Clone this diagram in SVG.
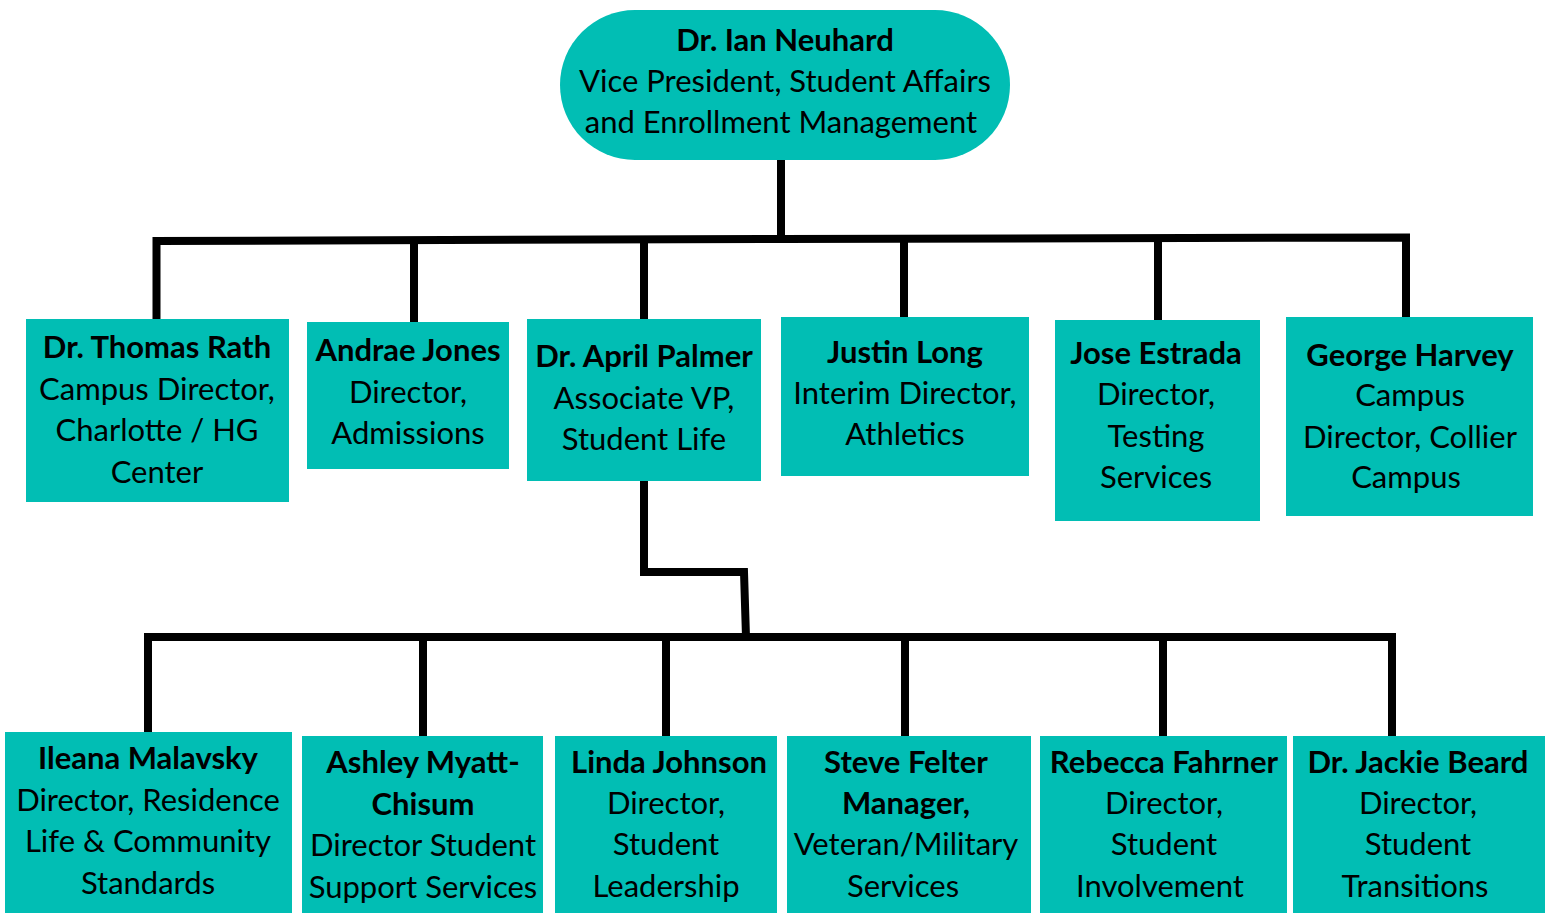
<svg xmlns="http://www.w3.org/2000/svg" width="1548" height="913" viewBox="0 0 1548 913">
  <style>
    .box { fill: #01BEB4; }
    .t { font-family: Lato, "Open Sans", "Liberation Sans", sans-serif; font-size: 31px; fill: #000; text-anchor: middle; }
    .b { font-weight: 700; }
    .wire { fill: none; stroke: #000; stroke-width: 8; stroke-linejoin: miter; stroke-linecap: butt; }
  </style>
  <rect width="1548" height="913" fill="#fff"/>

  <!-- connectors -->
  <g id="connectors" class="wire">
    <path d="M781,160 V239"/>
    <path d="M156.5,319 V241 L781,239 L1406,237.5 V317"/>
    <path d="M414,240 V322"/>
    <path d="M644,239 V319"/>
    <path d="M904,238 V317"/>
    <path d="M1158,238 V320"/>
    <path d="M644,481 V572 H744 L746,637"/>
    <path d="M148,732 V637 H1392 V736"/>
    <path d="M423,637 V736"/>
    <path d="M666,637 V736"/>
    <path d="M905,637 V736"/>
    <path d="M1163,637 V736"/>
  </g>

  <!-- top -->
  <g id="neuhard">
    <rect class="box" x="560" y="10" width="450" height="150" rx="75" ry="75"/>
    <text class="t b" x="785" y="51">Dr. Ian Neuhard</text>
    <text class="t" x="785" y="92">Vice President, Student Affairs</text>
    <text class="t" x="781" y="133">and Enrollment Management</text>
  </g>

  <!-- second level -->
  <g id="rath">
    <rect class="box" x="26" y="319" width="263" height="183"/>
    <text class="t b" x="157" y="358">Dr. Thomas Rath</text>
    <text class="t" x="157" y="400">Campus Director,</text>
    <text class="t" x="157" y="441">Charlotte / HG</text>
    <text class="t" x="157" y="483">Center</text>
  </g>
  <g id="jones">
    <rect class="box" x="307" y="322" width="202" height="147"/>
    <text class="t b" x="408" y="361">Andrae Jones</text>
    <text class="t" x="408" y="403">Director,</text>
    <text class="t" x="408" y="444">Admissions</text>
  </g>
  <g id="palmer">
    <rect class="box" x="527" y="319" width="234" height="162"/>
    <text class="t b" x="644" y="367">Dr. April Palmer</text>
    <text class="t" x="644" y="409">Associate VP,</text>
    <text class="t" x="644" y="450">Student Life</text>
  </g>
  <g id="long">
    <rect class="box" x="781" y="317" width="248" height="159"/>
    <text class="t b" x="905" y="363">Justin Long</text>
    <text class="t" x="905" y="404">Interim Director,</text>
    <text class="t" x="905" y="445">Athletics</text>
  </g>
  <g id="estrada">
    <rect class="box" x="1055" y="320" width="205" height="201"/>
    <text class="t b" x="1156" y="364">Jose Estrada</text>
    <text class="t" x="1156" y="405">Director,</text>
    <text class="t" x="1156" y="447">Testing</text>
    <text class="t" x="1156" y="488">Services</text>
  </g>
  <g id="harvey">
    <rect class="box" x="1286" y="317" width="247" height="199"/>
    <text class="t b" x="1410" y="366">George Harvey</text>
    <text class="t" x="1410" y="406">Campus</text>
    <text class="t" x="1410" y="448">Director, Collier</text>
    <text class="t" x="1406" y="488">Campus</text>
  </g>

  <!-- third level -->
  <g id="malavsky">
    <rect class="box" x="5" y="732" width="287" height="181"/>
    <text class="t b" x="148" y="769">Ileana Malavsky</text>
    <text class="t" x="148" y="811">Director, Residence</text>
    <text class="t" x="148" y="852">Life &amp; Community</text>
    <text class="t" x="148" y="894">Standards</text>
  </g>
  <g id="myatt-chisum">
    <rect class="box" x="302" y="736" width="241" height="177"/>
    <text class="t b" x="423" y="773">Ashley Myatt-</text>
    <text class="t b" x="423" y="815">Chisum</text>
    <text class="t" x="423" y="856">Director Student</text>
    <text class="t" x="423" y="898">Support Services</text>
  </g>
  <g id="johnson">
    <rect class="box" x="555" y="736" width="222" height="177"/>
    <text class="t b" x="669" y="773">Linda Johnson</text>
    <text class="t" x="666" y="814">Director,</text>
    <text class="t" x="666" y="855">Student</text>
    <text class="t" x="666" y="897">Leadership</text>
  </g>
  <g id="felter">
    <rect class="box" x="787" y="736" width="244" height="177"/>
    <text class="t b" x="906" y="773">Steve Felter</text>
    <text class="t b" x="906" y="814">Manager,</text>
    <text class="t" x="906" y="855">Veteran/Military</text>
    <text class="t" x="903" y="897">Services</text>
  </g>
  <g id="fahrner">
    <rect class="box" x="1040" y="736" width="247" height="177"/>
    <text class="t b" x="1164" y="773">Rebecca Fahrner</text>
    <text class="t" x="1164" y="814">Director,</text>
    <text class="t" x="1164" y="855">Student</text>
    <text class="t" x="1160" y="897">Involvement</text>
  </g>
  <g id="beard">
    <rect class="box" x="1293" y="736" width="252" height="177"/>
    <text class="t b" x="1418" y="773">Dr. Jackie Beard</text>
    <text class="t" x="1418" y="814">Director,</text>
    <text class="t" x="1418" y="855">Student</text>
    <text class="t" x="1415" y="897">Transitions</text>
  </g>
</svg>
